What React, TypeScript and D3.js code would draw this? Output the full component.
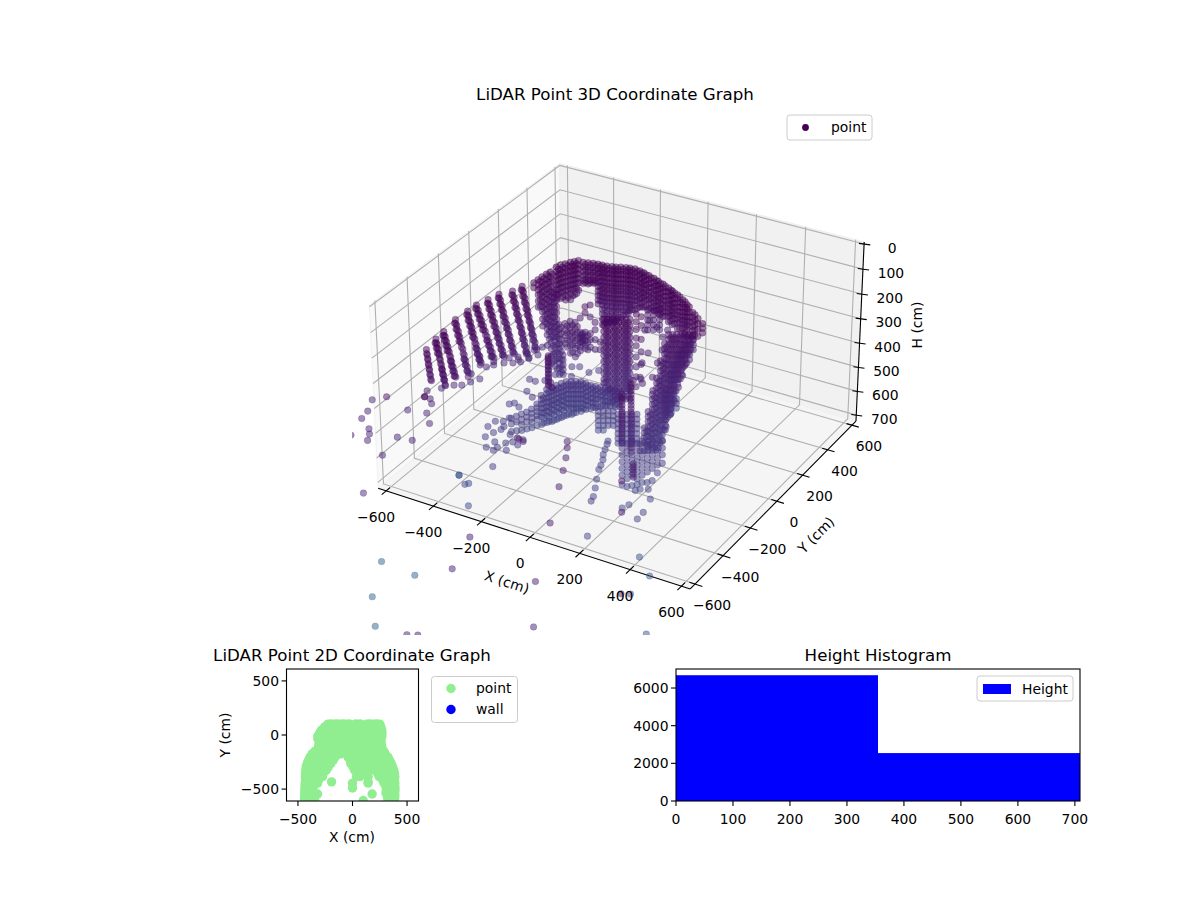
import React from 'react';
import * as d3 from 'd3';

// ---- values (cm) ----
const axisTicks = [-600, -400, -200, 0, 200, 400, 600];
const heightTicks = [0, 100, 200, 300, 400, 500, 600, 700];

// ceiling arch: [x, y, h, h, h ...]
const archColumns: number[][] = [
  [-307, 65, 80, 98, 116, 134, 152, 170, 188, 205],
  [-302, 85, 80, 98, 116, 134, 152, 170, 188, 214],
  [-292, 103, 80, 98, 116, 134, 152, 170, 188, 206, 226],
  [-282, 121, 80, 98, 116, 134, 152, 170, 188, 206, 230],
  [-273, 134, 80, 98, 116, 134, 152, 170, 188, 214],
  [-264, 148, 80, 98, 116, 134, 152, 170, 200],
  [-242, 144, 80, 98, 116, 134, 152, 165],
  [-225, 150, 80, 98, 116, 134, 152, 165],
  [-207, 156, 80, 98, 116, 134, 150, 160],
  [-189, 159, 80, 98, 116, 134, 152, 170, 188, 206, 224, 240],
  [-172, 160, 80, 96, 112, 128, 144, 160, 176, 192, 208, 224, 240, 258, 276, 298, 320],
  [-154, 162, 80, 96, 112, 128, 144, 160, 176, 192, 208, 224, 240, 258, 276, 292, 310],
  [-136, 168, 80, 96, 112, 128, 144, 160, 176, 192, 208, 224, 240, 258, 276, 292, 307],
  [-122, 172, 80, 96, 112, 128, 144, 160, 176, 192, 208, 224, 240, 258, 276, 295],
  [-107, 181, 80, 96, 112, 128, 144, 160, 176, 192, 208, 224, 240, 258, 282],
  [-89, 187, 80, 96, 112, 128, 144, 160, 176, 192, 208, 224, 240, 255, 270],
  [-75, 191, 80, 96, 112, 128, 144, 160, 176, 192, 208, 224, 238, 250],
  [-56, 194, 80, 96, 112, 128, 144, 160, 176, 192, 208, 224, 245],
  [-34, 190, 80, 96, 112, 128, 144, 160, 176, 192, 208, 226],
  [-14, 185, 80, 96, 112, 128, 144, 160, 176, 192, 218],
  [12, 175, 80, 96, 112, 128, 144, 160, 176, 192, 214],
  [38, 166, 80, 96, 112, 128, 144, 160, 176, 192, 210],
  [62, 154, 80, 96, 112, 128, 144, 160, 176, 192, 210],
  [87, 145, 80, 96, 112, 128, 144, 160, 176, 192, 210],
  [118, 129, 80, 96, 112, 128, 144, 160, 176, 192, 214],
  [140, 117, 80, 96, 112, 128, 144, 160, 176, 192, 214],
  [170, 101, 80, 96, 112, 128, 144, 160, 176, 192, 214],
  [203, 79, 80, 96, 112, 128, 144, 160, 176, 192, 214],
  [233, 55, 80, 96, 112, 128, 144, 160, 176, 205],
  [278, 15, 80, 98, 116, 134, 152, 173],
  [314, -13, 80, 100, 122, 150],
  [342, -31, 84, 102, 120],
];

// second sweep over the arch
const archReturnPass: number[][] = [
  [-298, 65, 86, 106, 126, 146, 166, 186],
  [-293, 85, 86, 106, 126, 146, 166, 186, 206],
  [-283, 103, 86, 106, 126, 146, 166, 186, 212],
  [-273, 121, 86, 106, 126, 146, 166, 186, 212],
  [-264, 134, 86, 106, 126, 146, 166, 186, 206],
  [-233, 144, 86, 106, 126, 146, 158],
  [-216, 150, 86, 106, 126, 146, 158],
  [-198, 156, 86, 106, 126, 146, 156],
  [-180, 159, 86, 106, 126, 146, 166, 186, 206, 226],
  [-163, 160, 86, 106, 126, 146, 166, 186, 206, 226, 250, 280, 310],
  [-145, 162, 86, 106, 126, 146, 166, 186, 206, 226, 250, 280, 302],
  [-127, 168, 86, 106, 126, 146, 166, 186, 206, 226, 250, 280, 300],
  [-113, 172, 86, 106, 126, 146, 166, 186, 206, 226, 250, 280],
  [-98, 181, 86, 106, 126, 146, 166, 186, 206, 226, 250, 272],
  [-80, 187, 86, 106, 126, 146, 166, 186, 206, 226, 250, 262],
  [-66, 191, 86, 106, 126, 146, 166, 186, 206, 226, 245],
  [-47, 194, 86, 106, 126, 146, 166, 186, 206, 236],
  [-25, 190, 86, 106, 126, 146, 166, 186, 206, 222],
  [-5, 185, 86, 106, 126, 146, 166, 186, 212],
  [21, 175, 86, 106, 126, 146, 166, 186, 208],
  [47, 166, 86, 106, 126, 146, 166, 186, 205],
  [71, 154, 86, 106, 126, 146, 166, 186, 205],
  [96, 145, 86, 106, 126, 146, 166, 186, 205],
  [127, 129, 86, 106, 126, 146, 166, 186, 208],
  [149, 117, 86, 106, 126, 146, 166, 186, 208],
  [179, 101, 86, 106, 126, 146, 166, 186, 208],
  [212, 79, 86, 106, 126, 146, 166, 186, 208],
  [242, 55, 86, 106, 126, 146, 166, 198],
  [287, 15, 86, 106, 126, 146, 166],
  [-2, 192, 230, 250, 270, 290, 310],
  [16, 203, 230, 250, 270, 290, 310],
  [35, 214, 230, 250, 270, 290, 310],
];

// left pillar next to the arch
const leftPillar: number[][] = [
  [-335, -44, 100, 120],
  [-334, -17, 100, 120, 140, 160, 185, 210],
  [-333, 9, 100, 120, 140, 160, 180, 200, 220, 240, 270, 298],
  [-330, 34, 100, 120, 140, 160, 180, 200, 220, 240, 260, 280, 300, 320, 345, 388],
  [-326, 54, 100, 120, 140, 160, 180, 200, 220, 240, 260, 280, 300, 320, 340, 360, 385, 410, 440, 472],
  [-313, 59, 180, 200, 220, 240, 260, 280, 300, 320, 340, 360, 380, 405, 430, 455, 480, 516],
  [-291, 52, 300, 320, 340, 360, 380, 400, 420, 440, 460, 480, 506],
  [-274, 50, 420, 440, 460, 480, 500],
  [-131, -284, 220, 234, 248, 262, 276, 290, 304, 318, 337],
  [-128, -290, 224, 240, 256, 272, 288, 304, 320, 334],
  [-325, -17, 106, 130, 155, 180, 205],
  [-324, 9, 106, 130, 155, 180, 205, 230, 255, 280],
  [-321, 34, 106, 130, 155, 180, 205, 230, 255, 280, 305, 330, 360],
  [-317, 54, 106, 130, 155, 180, 205, 230, 255, 280, 305, 330, 360, 395, 430, 460],
  [-304, 59, 186, 210, 235, 260, 285, 310, 335, 360, 390, 420, 450, 490],
  [-282, 52, 310, 335, 360, 385, 410, 440, 470, 495],
];

// wall ribs on the left: [y, x, h, x, h ...]
const wallRibs: number[][] = [
  [-87, -357, 100, -352, 122, -346, 146, -341, 170, -335, 194, -330, 216, -324, 240, -319, 264, -313, 288, -307, 312, -300, 338],
  [-134, -368, 100, -362, 124, -356, 147, -351, 170, -345, 194, -339, 218, -333, 241, -328, 264, -322, 288, -316, 312, -310, 335],
  [-178, -397, 100, -391, 122, -385, 144, -379, 167, -373, 189, -367, 211, -361, 233, -355, 256, -349, 278, -343, 300, -337, 322],
  [-231, -409, 100, -403, 121, -397, 142, -391, 163, -384, 184, -378, 205, -372, 226, -366, 247, -359, 268, -353, 289, -347, 309],
  [-284, -424, 100, -417, 119, -410, 138, -404, 157, -397, 176, -390, 195, -383, 214, -376, 233, -370, 252, -363, 271, -356, 291],
  [-337, -427, 100, -422, 121, -416, 141, -411, 162, -406, 182, -400, 203, -395, 223, -390, 244, -384, 264, -379, 285],
  [-409, -431, 100, -426, 122, -420, 144, -415, 166, -410, 188, -404, 209, -399, 231, -394, 253, -388, 275, -383, 297],
  [-502, -419, 100, -414, 118, -409, 137, -404, 155, -399, 174, -394, 192, -390, 211, -385, 229, -380, 248, -375, 266],
  [-559, -414, 100, -410, 119, -406, 138, -403, 158, -399, 177, -395, 196, -392, 215, -388, 235, -384, 254, -381, 273],
  [-636, -403, 100, -400, 120, -398, 139, -395, 159, -393, 178, -390, 198, -387, 217],
  [-105, -350, 104, -344, 128, -338, 150, -332, 174, -326, 198],
  [-152, -360, 104, -354, 128, -348, 152, -342, 175, -336, 198],
  [-196, -389, 104, -383, 126, -377, 148, -371, 171, -365, 193],
  [-249, -401, 104, -395, 125, -389, 146, -382, 167, -376, 188],
  [-302, -416, 104, -409, 123, -402, 142, -396, 161, -389, 180],
  [-355, -419, 104, -414, 125, -408, 145, -403, 166, -397, 186],
  [-427, -423, 104, -418, 126, -412, 148, -407, 170],
  [-520, -411, 104, -406, 122, -401, 141, -396, 159],
  [-577, -406, 104, -402, 123, -398, 142],
  [-105, -320, 220, -314, 244, -309, 268, -303, 292, -297, 316],
  [-152, -329, 222, -323, 245, -318, 268, -312, 292, -306, 316],
  [-196, -357, 215, -351, 237, -345, 260, -339, 282, -333, 304],
  [-249, -368, 209, -362, 230, -356, 251, -349, 272, -343, 293],
  [-302, -373, 218, -366, 237, -360, 256, -353, 275, -346, 295],
  [-355, -385, 227, -380, 248, -374, 268, -369, 289],
  [-427, -389, 235, -384, 257, -378, 279, -373, 301],
  [-520, -384, 196, -380, 215, -375, 233, -370, 252],
  [-577, -382, 200, -378, 219, -374, 239, -371, 258],
  [-95, -351, 111, -345, 134, -340, 158, -334, 182, -329, 205, -323, 228, -318, 252, -312, 276, -307, 300, -301, 325],
  [-142, -362, 112, -356, 135, -350, 158, -345, 182, -339, 206, -333, 230, -327, 252, -322, 276, -316, 300, -310, 324],
  [-186, -391, 111, -385, 133, -379, 155, -373, 178, -367, 200, -361, 222, -355, 244, -349, 267, -343, 289, -337, 311],
  [-239, -403, 110, -397, 131, -391, 152, -385, 173, -378, 194, -372, 215, -366, 236, -360, 257, -353, 278, -347, 299],
  [-292, -418, 109, -411, 128, -404, 147, -398, 166, -391, 185, -384, 204, -377, 223, -370, 242, -364, 261, -357, 281],
  [-345, -421, 110, -416, 131, -410, 151, -405, 172, -400, 192, -394, 213, -389, 233, -384, 254, -378, 274],
  [-417, -425, 111, -420, 133, -414, 155, -409, 177, -404, 198, -398, 220, -393, 242, -388, 264, -382, 286],
  [-510, -413, 109, -408, 127, -403, 146, -398, 164, -393, 183, -388, 201, -384, 220, -379, 238, -374, 257],
  [-567, -408, 109, -404, 128, -400, 148, -397, 167, -393, 186, -389, 205, -386, 225, -382, 244],
  [-644, -397, 110, -394, 129, -392, 149, -389, 168, -387, 188, -384, 207],
];

// sparse points at rib feet and under the ribs: [x, y, h]
const ribFeet: number[][] = [
  [-507, -398, 400], [-480, -358, 400], [-456, -344, 400], [-441, -310, 400], [-424, -275, 400],
  [-470, -260, 400], [-481, -176, 400], [-449, -191, 400], [-434, -166, 400], [-410, -135, 400],
  [-382, -119, 400], [-362, -99, 400], [-351, -59, 400], [-334, -25, 400], [-413, -95, 400],
  [-389, -73, 400], [-374, -40, 400], [-364, -1, 400], [-350, 32, 400], [-470, -200, 360],
  [-455, -150, 380], [-395, -60, 420], [-378, -18, 430],
];

// middle structure between the left pillar and the central pillar
const innerColumns: number[][] = [
  [-241, 13, 265, 290, 315, 345],
  [-225, 22, 255, 280, 305, 330, 355, 385],
  [-210, 31, 260, 285, 310, 335, 365, 400],
  [-194, 40, 242, 300, 320, 340, 360, 375],
  [-179, 49, 197, 222, 300, 318, 334, 350, 366],
  [-163, 58, 190, 238, 305, 330, 360],
  [-148, 67, 260, 290, 330, 370],
  [-132, 76, 340, 370],
  [-186, 44, 305, 318, 331, 344],
  [-190, 42, 310, 324, 338],
  [-232, 13, 272, 300, 328, 358],
  [-216, 22, 268, 296, 322, 348, 378],
  [-201, 31, 274, 300, 326, 352, 384],
  [-170, 52, 312, 340, 370],
];

// central pillar, dark at the top and blue at the bottom
const centralPillar: number[][] = [
  [-31, -71, 150, 174, 198, 222, 246, 270, 294, 318, 342, 366, 390, 405],
  [-19, -64, 150, 174, 198, 222, 246, 270, 294, 318, 342, 366, 390, 414, 433],
  [-3, -55, 150, 174, 198, 222, 246, 270, 294, 318, 342, 366, 390, 414, 438, 474],
  [9, -48, 150, 174, 198, 222, 246, 270, 294, 318, 342, 366, 390, 414, 438, 470],
  [25, -39, 150, 174, 198, 222, 246, 270, 294, 318, 342, 366, 390, 414, 438, 470],
  [37, -32, 150, 174, 198, 222, 246, 270, 294, 318, 342, 366, 390, 414, 438, 470],
  [49, -25, 150, 174, 198, 222, 246, 270, 294, 318, 342, 366, 390, 414, 438, 470],
  [68, -14, 130, 160, 190, 225, 255, 300, 340, 380, 420],
  [83, -5, 140, 175, 230, 280, 330, 390],
  [-22, -71, 160, 186, 210, 234, 258, 282, 306, 330, 354, 378, 400],
  [-10, -64, 160, 186, 210, 234, 258, 282, 306, 330, 354, 378, 402, 426],
  [6, -55, 160, 186, 210, 234, 258, 282, 306, 330, 354, 378, 402, 426, 456],
  [18, -48, 160, 186, 210, 234, 258, 282, 306, 330, 354, 378, 402, 426, 456],
  [34, -39, 160, 186, 210, 234, 258, 282, 306, 330, 354, 378, 402, 426, 456],
  [46, -32, 160, 186, 210, 234, 258, 282, 306, 330, 354, 378, 402, 426, 456],
];

// right pillar
const rightPillar: number[][] = [
  [189, -196, 524, 552],
  [187, -163, 476, 496, 516, 536, 569],
  [184, -131, 428, 448, 468, 488, 508, 528, 548, 568, 586],
  [181, -96, 377, 397, 417, 437, 457, 477, 497, 517, 537, 557, 580, 604],
  [179, -63, 329, 349, 369, 389, 409, 429, 449, 469, 489, 509, 529, 549, 569, 595, 621],
  [175, -28, 278, 298, 318, 338, 358, 378, 398, 418, 438, 458, 478, 498, 518, 538, 558, 584, 610],
  [172, 5, 227, 247, 267, 287, 307, 327, 347, 367, 387, 407, 427, 447, 467, 487, 507, 535, 575],
  [176, 27, 200, 220, 240, 260, 280, 300, 320, 340, 360, 380, 400, 420, 440, 460, 480, 505, 532],
  [188, 34, 200, 220, 240, 260, 280, 300, 320, 340, 360, 380, 400, 420, 440, 479],
  [200, 42, 200, 220, 240, 260, 280, 300, 320, 340, 360, 380, 427],
  [213, 49, 200, 220, 240, 260, 280, 300, 320, 345, 378],
  [225, 56, 200, 220, 240, 260, 280, 300, 326],
  [237, 63, 200, 220, 240, 273],
  [250, 70, 200, 220],
  [196, -163, 486, 510, 540],
  [193, -131, 438, 462, 486, 510, 534, 560],
  [190, -96, 387, 411, 435, 459, 483, 507, 531, 555, 590],
  [188, -63, 339, 363, 387, 411, 435, 459, 483, 507, 531, 555, 580, 610],
  [184, -28, 288, 312, 336, 360, 384, 408, 432, 456, 480, 504, 528, 552, 576, 600],
  [181, 5, 237, 261, 285, 309, 333, 357, 381, 405, 429, 453, 477, 501, 530, 560],
  [185, 27, 210, 234, 258, 282, 306, 330, 354, 378, 402, 426, 450, 474, 498, 520],
  [197, 34, 210, 234, 258, 282, 306, 330, 354, 378, 402, 426, 465],
  [209, 42, 210, 234, 258, 282, 306, 330, 354, 378, 410],
  [222, 49, 210, 234, 258, 282, 306, 330, 362],
  [234, 56, 210, 234, 258, 282, 312],
  [246, 63, 210, 234, 258],
  [142, 273, 350, 370, 390],
  [148, 235, 350, 370, 390, 410],
  [135, 227, 350, 370, 390, 410, 430],
  [141, 189, 350, 370, 390, 410, 430, 450],
  [146, 151, 350, 370, 390, 410, 430, 450, 470],
  [169, 82, 350, 370, 390, 410, 430, 450, 470, 490],
  [193, 13, 350, 370, 390, 410, 430, 450, 470, 490, 510],
  [230, -89, 350, 370, 390, 410, 430, 450, 470, 490, 510],
];

// dots of the inner arch on the right: [x, y, h]
const innerArchDots: number[][] = [
  [26, 210, 300], [79, 158, 300], [70, 211, 300], [123, 76, 300], [154, -13, 300], [188, -109, 300],
  [91, 32, 300], [107, -40, 300], [151, -131, 300], [235, -189, 300], [179, -164, 300], [141, -161, 300],
  [-1, 170, 300], [-21, 241, 300],
];

// floor band in blue, left end sparse
const floorBand: number[][] = [
  [-366, -164, 600, 624, 656],
  [-357, -143, 600, 624, 660],
  [-349, -121, 600, 622, 644, 668],
  [-340, -100, 600, 620, 640, 670],
  [-336, -72, 600, 618, 636, 655, 678],
  [-338, -32, 600, 616, 632, 648, 664, 690],
  [-302, -59, 540, 558, 576, 594, 612, 630, 661],
  [-307, -13, 540, 558, 576, 594, 612, 630, 650, 678],
  [-299, 8, 540, 558, 576, 594, 612, 630, 650, 682],
  [-291, 30, 540, 558, 576, 594, 612, 630, 650, 682],
  [-283, 51, 540, 558, 576, 594, 612, 630, 650, 682],
  [-275, 72, 540, 558, 576, 594, 612, 630, 650, 682],
  [-259, 81, 540, 558, 576, 594, 612, 630, 650, 678],
  [-244, 90, 540, 558, 576, 594, 612, 630, 650, 670],
  [-228, 99, 540, 558, 576, 594, 612, 630, 650, 665],
  [-206, 96, 540, 558, 576, 594, 612, 630, 649],
  [-183, 93, 540, 558, 576, 594, 612, 637],
  [-164, 95, 540, 558, 576, 594, 612, 629],
  [-144, 98, 540, 558, 576, 594, 621],
  [-126, 100, 540, 558, 576, 594, 613],
  [-107, 103, 540, 558, 576, 594, 609],
  [-84, 99, 540, 558, 576, 594, 605],
  [-66, 102, 540, 558, 576, 600],
  [-119, 37, 600, 620, 640, 660, 680],
  [-103, 46, 600, 620, 640, 660, 680],
  [-88, 55, 600, 620, 640, 660],
  [-72, 64, 600, 620, 640, 660],
  [-11, -6, 560, 580, 600, 620, 640, 660, 680],
  [2, 1, 560, 580, 600, 620, 640, 660, 680],
  [17, 10, 560, 580, 600, 620, 640, 660, 680],
  [32, 19, 560, 580, 600, 620, 640, 660, 680],
  [48, 28, 560, 580, 600, 620, 640, 660, 680],
  [20, 298, 640, 660, 680, 700],
  [35, 307, 640, 660, 680, 700],
  [51, 316, 640, 660, 680],
  [-293, -59, 548, 568, 590, 610, 632, 652],
  [-298, -13, 548, 568, 590, 610, 632, 652, 670],
  [-290, 8, 548, 568, 590, 610, 632, 652, 674],
  [-282, 30, 548, 568, 590, 610, 632, 652, 674],
  [-274, 51, 548, 568, 590, 610, 632, 652, 674],
  [-266, 72, 548, 568, 590, 610, 632, 652, 674],
  [-250, 81, 548, 568, 590, 610, 632, 652, 670],
  [-235, 90, 548, 568, 590, 610, 632, 652],
  [-219, 99, 548, 568, 590, 610, 632, 652],
  [-197, 96, 548, 568, 590, 610, 632],
  [-174, 93, 548, 568, 590, 610, 628],
  [-155, 95, 548, 568, 590, 620],
  [-135, 98, 548, 568, 590, 612],
  [-117, 100, 548, 568, 590, 606],
  [-98, 103, 548, 568, 590],
  [-75, 99, 548, 568, 590],
];

// dots scattered at the left end of the floor band: [x, y, h]
const floorDots: number[][] = [
  [-408, -255, 600], [-404, -211, 600], [-379, -197, 600], [-378, -320, 600], [-368, -281, 600],
  [-356, -249, 600], [-330, -333, 600], [-337, -379, 600], [-304, -384, 600], [-264, -361, 600],
  [-303, -359, 600], [-292, -320, 600], [-274, -301, 600], [-248, -310, 600], [-309, -263, 600],
  [-425, -82, 600], [-412, -67, 600], [-383, -83, 600], [-372, -167, 600], [-358, -226, 600],
  [-250, -270, 600], [-6, -693, 300], [-2, -690, 304], [22, -702, 300],
  [-321, 190, 550], [-296, 204, 550], [-245, 185, 550], [-221, 215, 550], [-286, 128, 550],
  [-56, -393, 250], [-32, -420, 250], [-355, 54, 550], [-382, 31, 550], [-408, 33, 550],
  [-371, -46, 550], [-332, -72, 550],
];

// dark narrow columns in front of the right pillar
const frontColumns: number[][] = [
  [241, -414, 200, 214, 228, 242, 256, 270, 284, 298, 312, 326, 340, 354, 368, 390],
  [232, -336, 200, 214, 228, 242, 256, 270, 284, 298, 312, 326, 340, 354, 368, 382, 396, 410, 424, 438, 452, 471],
  [415, -640, 300, 312, 324, 338, 352],
  [435, -752, 300],
];

// floor grid under the right pillar
const floorGrid: number[][] = [
  [127, -216, 520, 548, 576, 604, 632, 660, 698],
  [142, -207, 534, 562, 590, 618, 646, 674, 706],
  [157, -198, 520, 548, 576, 604, 632, 660, 702],
  [173, -189, 534, 562, 590, 618, 646, 674, 698],
  [188, -180, 520, 548, 576, 604, 632, 660, 690],
  [204, -171, 534, 562, 590, 618, 646, 690],
  [219, -162, 520, 548, 576, 604, 632, 682],
  [235, -153, 534, 562, 590, 618, 650],
  [250, -145, 520, 548, 576, 610],
];

// thin strips and lone floor points: [x, y, h]
const frontStrip: number[][] = [
  [-25, -54, 650], [-17, -74, 650], [-5, -109, 650], [7, -143, 650], [24, -174, 650], [36, -209, 650],
  [44, -237, 650], [70, -297, 650], [95, -349, 650], [118, -401, 650], [126, -430, 650],
  [151, -628, 300], [172, -663, 300], [201, -720, 300], [234, -793, 300], [274, -886, 300],
  [212, -236, 680], [201, -251, 680], [237, -222, 680], [275, -274, 680], [228, -343, 680],
  [218, -373, 680], [299, -408, 680], [296, -361, 680], [530, -917, 300],
];

// far returns, last value is the colour position: [x, y, h, shade]
const farReturns: number[][] = [
  [-295, -1110, 650, 0.32], [-152, -1123, 650, 0.32], [232, -1469, 300, 0.09], [-204, -1300, 650, 0.32],
  [496, -1398, 300, 0.09], [-100, -1436, 650, 0.32], [307, -1840, 300, 0.09], [337, -1825, 300, 0.09],
  [620, -1612, 300, 0.09], [689, -1032, 650, 0.27], [446, -651, 650, 0.24], [532, -733, 650, 0.27],
  [762, -1323, 300, 0.08], [530, -858, 650, 0.2], [228, -628, 650, 0.2], [362, -1088, 300, 0.08],
  [182, -1287, 300, 0.07], [-228, -670, 650, 0.22], [-292, -409, 650, 0.18], [-365, -517, 650, 0.26],
  [-365, -517, 650, 0.26], [-314, -558, 650, 0.22], [-306, -546, 650, 0.22], [-591, -784, 650, 0.12],
  [-531, -743, 500, 0.1], [-674, -588, 400, 0.09], [-642, -545, 400, 0.06], [-644, -660, 400, 0.09],
  [-634, -712, 400, 0.09], [-527, -584, 400, 0.09], [-573, -757, 400, 0.09], [-552, -785, 400, 0.09],
  [-534, -823, 400, 0.09], [-603, -823, 400, 0.07], [-618, -824, 400, 0.03], [-457, -754, 400, 0.09],
  [-401, -746, 400, 0.09], [-411, -622, 400, 0.09], [-458, -568, 400, 0.09], [-478, -506, 400, 0.09],
  [-501, -480, 400, 0.07], [-526, -478, 400, 0.03], [-526, -478, 400, 0.03], [-541, -439, 400, 0.07],
];

// plan view: [y, x, x, x ...]
const planRows: number[][] = [
  [100, -225, -170, -115, -60, 130, 190, 250],
  [85, -60, -5, 50, 100],
  [45, -285, -230, -175, -120, -65, -10, 45, 100, 155, 210, 268],
  [-10, -318, -265, -210, -155, -100, -45, 10, 65, 120, 175, 230, 270],
  [-65, -305, -250, -195, -140, -85, -30, 25, 80, 135, 190, 245, 262],
  [-120, -312, -257, -202, -147, -92, -37, 18, 73, 128, 183, 238, 270],
  [-175, -370, -315, -260, -205, -150, -110, -50, 5, 60, 115, 170, 225, 280, 300],
  [-235, -403, -348, -293, -238, -178, -20, 35, 90, 145, 200, 255, 310, 340],
  [-295, -425, -370, -315, -260, -222, 5, 60, 115, 170, 225, 280, 335, 367],
  [-355, -431, -376, -321, -268, 231, 286, 341, 385],
  [-415, -431, -376, -312, 277, 332, 385],
  [-475, -435, -380, -358, 307, 350, 388],
  [-535, -438, -385, 307, 350, 388],
  [-590, -440, -387, 323, 385],
  [-433, -192, 143],
  [-545, -320, 180],
  [-385, 37, 67, 143],
  [-445, 0, 143],
  [-490, 0],
  [-605, 98, -345],
  [103, -198, -143, -88, 158, 218, -30, 30, 70],
  [75, -255, 260],
  [20, -300, 270],
  [-35, -318, 262],
  [-92, -310, 265],
  [-150, -345, 288],
  [-205, -390, -160, -40, 325],
  [-265, -415, -200, -15, 355],
  [-325, -428, -240, 20, 80, 140, 200, 378],
  [-385, -432, -275, 245, 388],
  [-445, -434, -320, 290, 388],
  [-505, -437, -365, 310, 390],
  [-565, -439, -395, 320, 388],
];

const histogramBins = [
  { x0: 0, x1: 354.5, count: 6680 },
  { x0: 354.5, x1: 709, count: 2545 },
];
const histogramXTicks = [0, 100, 200, 300, 400, 500, 600, 700];
const histogramYTicks = [0, 2000, 4000, 6000];
const planTicks = [-500, 0, 500];

// ---- 3D view, same camera as an elev 30 / azim -60 plot ----
const boxX = d3.scaleLinear().domain([-634, 634]).range([-0.595, 0.595]);
const boxY = d3.scaleLinear().domain([-634, 634]).range([-0.595, 0.595]);
const boxH = d3.scaleLinear().domain([-8, 725]).range([0.35, -0.35]);
const screenX = d3.scaleLinear().domain([-1, 1]).range([621.5 - 299, 621.5 + 299]);
const screenY = d3.scaleLinear().domain([-1, 1]).range([365 + 299, 365 - 299]);
const shadeOfHeight = d3.scaleLinear().domain([80, 700]).range([0, 0.2]).clamp(true);

function project(x: number, y: number, h: number) {
  const q1 = boxX(x);
  const q2 = boxY(y);
  const q3 = boxH(h);
  const toward = 0.433 * q1 - 0.75 * q2 + 0.5 * q3;
  const f = 10 / (10 - toward);
  return {
    sx: screenX(f * (0.866 * q1 + 0.5 * q2)),
    sy: screenY(f * (-0.25 * q1 + 0.433 * q2 + 0.866 * q3)),
    toward,
  };
}

const [xMin, xMax] = boxX.domain();
const [yMin, yMax] = boxY.domain();
const [hTop, hBottom] = boxH.domain();

const pathOf = (corners: number[][], close = true) =>
  corners
    .map(([x, y, h], i) => {
      const p = project(x, y, h);
      return `${i ? 'L' : 'M'}${p.sx},${p.sy}`;
    })
    .join('') + (close ? 'Z' : '');

type Pt = { x: number; y: number; h: number; shade: number };
const withHeight = (x: number, y: number, h: number): Pt => ({ x, y, h, shade: shadeOfHeight(h) });

const columnPoints = (cols: number[][]) =>
  cols.flatMap(([x, y, ...hs]) => hs.map(h => withHeight(x, y, h)));

const ribPoints = wallRibs.flatMap(([y, ...rest]) =>
  d3.range(0, rest.length, 2).map(i => withHeight(rest[i], y, rest[i + 1]))
);

const allPoints: Pt[] = [
  ...columnPoints(archColumns),
  ...columnPoints(archReturnPass),
  ...columnPoints(leftPillar),
  ...ribPoints,
  ...columnPoints(innerColumns),
  ...columnPoints(centralPillar),
  ...columnPoints(rightPillar),
  ...columnPoints(floorBand),
  ...columnPoints(frontColumns),
  ...columnPoints(floorGrid),
  ...[...ribFeet, ...innerArchDots, ...floorDots, ...frontStrip].map(([x, y, h]) => withHeight(x, y, h)),
  ...farReturns.map(([x, y, h, shade]) => ({ x, y, h, shade })),
];

const projected = allPoints
  .map(p => ({ ...project(p.x, p.y, p.h), color: d3.interpolateViridis(p.shade) }))
  .sort((a, b) => d3.ascending(a.toward, b.toward));

const font = '"DejaVu Sans", sans-serif';
const minusFormat = d3.format('d');

function Legend({ x, y, w, h }: { x: number; y: number; w: number; h: number }) {
  return <rect x={x} y={y} width={w} height={h} rx={3} fill="#fff" fillOpacity={0.8} stroke="#ccc" strokeWidth={1} />;
}

function Scatter3D() {
  const gridColor = '#b0b0b0';
  return (
    <g>
      <path d={pathOf([[xMin, yMin, hTop], [xMin, yMax, hTop], [xMin, yMax, hBottom], [xMin, yMin, hBottom]])} fill="#f9f9f9" stroke="#f2f2f2" />
      <path d={pathOf([[xMin, yMax, hTop], [xMax, yMax, hTop], [xMax, yMax, hBottom], [xMin, yMax, hBottom]])} fill="#f1f1f1" stroke="#eeeeee" />
      <path d={pathOf([[xMin, yMin, hBottom], [xMax, yMin, hBottom], [xMax, yMax, hBottom], [xMin, yMax, hBottom]])} fill="#f5f5f5" stroke="#f0f0f0" />

      {axisTicks.map(t => (
        <g key={`grid-${t}`} fill="none" stroke={gridColor} strokeWidth={1.1}>
          <path d={pathOf([[t, yMin, hBottom], [t, yMax, hBottom], [t, yMax, hTop]], false)} />
          <path d={pathOf([[xMax, t, hBottom], [xMin, t, hBottom], [xMin, t, hTop]], false)} />
        </g>
      ))}
      {heightTicks.map(t => (
        <path key={`grid-h-${t}`} d={pathOf([[xMin, yMin, t], [xMin, yMax, t], [xMax, yMax, t]], false)} fill="none" stroke={gridColor} strokeWidth={1.1} />
      ))}

      <g fill="none" stroke="#000" strokeWidth={1.1}>
        <path d={pathOf([[xMin, yMin, hBottom], [xMax, yMin, hBottom]], false)} />
        <path d={pathOf([[xMax, yMin, hBottom], [xMax, yMax, hBottom]], false)} />
        <path d={pathOf([[xMax, yMax, hBottom], [xMax, yMax, hTop]], false)} />
        {axisTicks.map(t => (
          <g key={`tick-${t}`}>
            <path d={pathOf([[t, yMin - 28, hBottom], [t, yMin + 25, hBottom]], false)} />
            <path d={pathOf([[xMax - 22, t, hBottom], [xMax + 28, t, hBottom]], false)} />
          </g>
        ))}
        {heightTicks.map(t => (
          <path key={`tick-h-${t}`} d={pathOf([[xMax - 18, yMax - 5, t], [xMax + 22, yMax + 5, t]], false)} />
        ))}
      </g>

      <defs>
        <clipPath id="clip3d">
          <rect x={352} y={109} width={526} height={526} />
        </clipPath>
      </defs>
      <g clipPath="url(#clip3d)">
        {projected.map((p, i) => (
          <circle key={i} cx={p.sx} cy={p.sy} r={3.3} fill={p.color} fillOpacity={0.5} stroke={p.color} strokeOpacity={0.3} strokeWidth={0.8} />
        ))}
      </g>

      <g fontFamily={font} fontSize={13.9} fill="#000" textAnchor="middle" dominantBaseline="central">
        {axisTicks.map(t => {
          const px = project(t, yMin, hBottom);
          const py = project(xMax, t, hBottom);
          return (
            <g key={`lab-${t}`}>
              <text x={px.sx - 10} y={px.sy + 26}>{minusFormat(t)}</text>
              <text x={py.sx + 17} y={py.sy + 21}>{minusFormat(t)}</text>
            </g>
          );
        })}
        {heightTicks.map(t => {
          const p = project(xMax, yMax, t);
          return <text key={`lab-h-${t}`} x={p.sx + 28} y={p.sy + 3.5}>{minusFormat(t)}</text>;
        })}
        <text transform="translate(507,582) rotate(18)">X (cm)</text>
        <text transform="translate(816,535) rotate(-45)">Y (cm)</text>
        <text transform="translate(917,325) rotate(-90)">H (cm)</text>
      </g>

      <text x={615} y={100} textAnchor="middle" fontFamily={font} fontSize={16.67}>LiDAR Point 3D Coordinate Graph</text>

      <Legend x={787} y={115} w={85} h={25} />
      <circle cx={805.5} cy={127.5} r={3.4} fill={d3.interpolateViridis(0)} />
      <text x={831} y={132} fontFamily={font} fontSize={13.9}>point</text>
    </g>
  );
}

function PlanView() {
  const x = d3.scaleLinear().domain([-605, 605]).range([286.5, 418.5]);
  const y = d3.scaleLinear().domain([-610, 610]).range([801, 669]);
  return (
    <g fontFamily={font} fontSize={13.9}>
      <defs>
        <clipPath id="clipPlan">
          <rect x={286.5} y={669} width={132} height={132} />
        </clipPath>
      </defs>
      <g clipPath="url(#clipPlan)">
        {planRows.flatMap(([py, ...xs]) =>
          xs.map(px => <circle key={`${px}/${py}`} cx={x(px)} cy={y(py)} r={4.7} fill="#90ee90" />)
        )}
      </g>
      <rect x={286.5} y={669} width={132} height={132} fill="none" stroke="#000" strokeWidth={1.1} />
      {planTicks.map(t => (
        <g key={t}>
          <line x1={x(t)} x2={x(t)} y1={801} y2={806} stroke="#000" strokeWidth={1.1} />
          <text x={x(t)} y={819} textAnchor="middle" dominantBaseline="central">{minusFormat(t)}</text>
          <line x1={281.6} x2={286.5} y1={y(t)} y2={y(t)} stroke="#000" strokeWidth={1.1} />
          <text x={279} y={y(t)} textAnchor="end" dominantBaseline="central">{minusFormat(t)}</text>
        </g>
      ))}
      <text x={352} y={842} textAnchor="middle">X (cm)</text>
      <text transform="translate(225,735) rotate(-90)" textAnchor="middle" dominantBaseline="central">Y (cm)</text>
      <text x={352} y={661} textAnchor="middle" fontSize={16.67}>LiDAR Point 2D Coordinate Graph</text>

      <Legend x={431.5} y={676.5} w={86} h={46} />
      <circle cx={451} cy={688.5} r={4.7} fill="#90ee90" />
      <circle cx={451} cy={709.5} r={4.7} fill="#0000ff" />
      <text x={476} y={693}>point</text>
      <text x={476} y={713.5}>wall</text>
    </g>
  );
}

function HeightHistogram() {
  const x = d3.scaleLinear().domain([0, 709]).range([676, 1080]);
  const y = d3.scaleLinear().domain([0, 7010]).range([801, 669]);
  return (
    <g fontFamily={font} fontSize={13.9}>
      {histogramBins.map(b => (
        <rect key={b.x0} x={x(b.x0)} y={y(b.count)} width={x(b.x1) - x(b.x0)} height={801 - y(b.count)} fill="#0000ff" />
      ))}
      <rect x={676} y={669} width={404} height={132} fill="none" stroke="#000" strokeWidth={1.1} />
      {histogramXTicks.map(t => (
        <g key={t}>
          <line x1={x(t)} x2={x(t)} y1={801} y2={806} stroke="#000" strokeWidth={1.1} />
          <text x={x(t)} y={819} textAnchor="middle" dominantBaseline="central">{t}</text>
        </g>
      ))}
      {histogramYTicks.map(t => (
        <g key={t}>
          <line x1={671} x2={676} y1={y(t)} y2={y(t)} stroke="#000" strokeWidth={1.1} />
          <text x={668.5} y={y(t)} textAnchor="end" dominantBaseline="central">{t}</text>
        </g>
      ))}
      <text x={878} y={661} textAnchor="middle" fontSize={16.67}>Height Histogram</text>
      <Legend x={977} y={676} w={96} h={25} />
      <rect x={983} y={684} width={28} height={10} fill="#0000ff" />
      <text x={1022} y={693.5}>Height</text>
    </g>
  );
}

export default function App() {
  return (
    <svg width={1200} height={900} style={{ position: 'absolute', left: 0, top: 0, background: '#fff' }}>
      <Scatter3D />
      <PlanView />
      <HeightHistogram />
    </svg>
  );
}
